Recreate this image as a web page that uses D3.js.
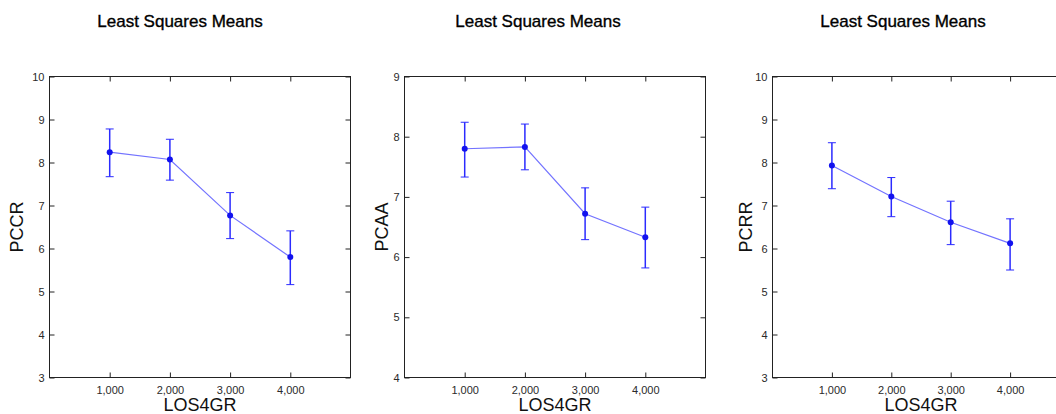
<!DOCTYPE html>
<html>
<head>
<meta charset="utf-8">
<script src="https://d3js.org/d3.v7.min.js"></script>
<style>
  body { margin: 0; background: #fff; }
  svg { display: block; font-family: "Liberation Sans", Arial, sans-serif; }
  .tick text { fill: #2a2a2a; font-size: 11px; }
  .tick line { stroke: #222; }
</style>
</head>
<body>
<div id="graphe"></div>
<script>
// niveaux de LOS4GR
const niveaux = [1000, 2000, 3000, 4000];

// PCCR
const moyPCCR = [8.24, 8.07, 6.77, 5.80];
const hautPCCR = [8.78, 8.54, 7.30, 6.41];
const basPCCR = [7.67, 7.59, 6.23, 5.16];

// PCAA
const moyPCAA = [7.80, 7.83, 6.72, 6.33];
const hautPCAA = [8.24, 8.21, 7.15, 6.83];
const basPCAA = [7.33, 7.45, 6.29, 5.82];

// PCRR
const moyPCRR = [7.93, 7.21, 6.61, 6.12];
const hautPCRR = [8.46, 7.65, 7.10, 6.69];
const basPCRR = [7.39, 6.74, 6.09, 5.50];

const ticksY10 = [3, 4, 5, 6, 7, 8, 9, 10];
const ticksY9 = [4, 5, 6, 7, 8, 9];

const panneaux = [
    { nom: "PCCR", moy: moyPCCR, haut: hautPCCR, bas: basPCCR, yMin: 3, yMax: 10, ticksY: ticksY10,
      gauche: 49.5, largeur: 301, titreX: 180, labelX: 23 },
    { nom: "PCAA", moy: moyPCAA, haut: hautPCAA, bas: basPCAA, yMin: 4, yMax: 9, ticksY: ticksY9,
      gauche: 404.5, largeur: 301, titreX: 538, labelX: 388 },
    { nom: "PCRR", moy: moyPCRR, haut: hautPCRR, bas: basPCRR, yMin: 3, yMax: 10, ticksY: ticksY10,
      gauche: 772.5, largeur: 297, titreX: 903, labelX: 752 }
];

const haut = 76.5, bas = 377.5;
const bleuLigne = "#7373ff", bleuBarre = "#2b2bff", bleuPoint = "#1212ee";

const svg = d3.select("#graphe").append("svg")
    .attr("width", 1056)
    .attr("height", 414);

panneaux.forEach(p => {
    const x = d3.scaleLinear().domain([0, 5000]).range([p.gauche, p.gauche + p.largeur]);
    const y = d3.scaleLinear().domain([p.yMin, p.yMax]).range([bas, haut]);
    const g = svg.append("g");

    // titre
    g.append("text")
        .attr("x", p.titreX).attr("y", 27)
        .attr("text-anchor", "middle")
        .style("font-size", "17px")
        .attr("fill", "#000").attr("stroke", "#000").attr("stroke-width", 0.35)
        .text("Least Squares Means");

    // cadre
    g.append("rect")
        .attr("x", p.gauche).attr("y", haut)
        .attr("width", p.largeur).attr("height", bas - haut)
        .attr("fill", "none").attr("stroke", "#222");

    // axes, graduations vers l'interieur
    g.append("g").attr("transform", `translate(${p.gauche},0)`)
        .call(d3.axisLeft(y).tickValues(p.ticksY).tickSize(-5).tickSizeOuter(0).tickPadding(5).tickFormat(d3.format("d")))
        .call(a => a.select(".domain").remove());
    g.append("g").attr("transform", `translate(${p.gauche + p.largeur},0)`)
        .call(d3.axisRight(y).tickValues(p.ticksY).tickSize(-5).tickSizeOuter(0).tickFormat(""))
        .call(a => a.select(".domain").remove());
    g.append("g").attr("transform", `translate(0,${bas})`)
        .call(d3.axisBottom(x).tickValues(niveaux).tickSize(-5).tickSizeOuter(0).tickPadding(9).tickFormat(d3.format(",")))
        .call(a => a.select(".domain").remove());
    g.append("g").attr("transform", `translate(0,${haut})`)
        .call(d3.axisTop(x).tickValues(niveaux).tickSize(-5).tickSizeOuter(0).tickFormat(""))
        .call(a => a.select(".domain").remove());
    g.selectAll(".tick text").attr("font-family", null).attr("font-size", null);

    // libelles
    g.append("text")
        .attr("transform", `translate(${p.labelX},${(haut + bas) / 2}) rotate(-90)`)
        .attr("text-anchor", "middle")
        .style("font-size", "18px").attr("fill", "#111")
        .text(p.nom);
    g.append("text")
        .attr("x", p.gauche + p.largeur / 2).attr("y", 411)
        .attr("text-anchor", "middle")
        .style("font-size", "18px").attr("fill", "#111")
        .text("LOS4GR");

    const donnees = niveaux.map((n, i) => ({ n: n, m: p.moy[i], h: p.haut[i], b: p.bas[i] }));

    // ligne des moyennes
    g.append("path")
        .datum(donnees)
        .attr("fill", "none").attr("stroke", bleuLigne).attr("stroke-width", 1.2)
        .attr("d", d3.line().x(d => x(d.n)).y(d => y(d.m)));

    // barres d'erreur
    const barres = g.selectAll(".barre").data(donnees).enter().append("g").attr("class", "barre")
        .attr("stroke", bleuBarre);
    barres.append("line")
        .attr("x1", d => x(d.n)).attr("x2", d => x(d.n))
        .attr("y1", d => y(d.h)).attr("y2", d => y(d.b))
        .attr("stroke-width", 1.5);
    barres.append("line")
        .attr("x1", d => x(d.n) - 4).attr("x2", d => x(d.n) + 4)
        .attr("y1", d => y(d.h)).attr("y2", d => y(d.h));
    barres.append("line")
        .attr("x1", d => x(d.n) - 4).attr("x2", d => x(d.n) + 4)
        .attr("y1", d => y(d.b)).attr("y2", d => y(d.b));

    // points
    g.selectAll(".point").data(donnees).enter().append("circle").attr("class", "point")
        .attr("cx", d => x(d.n)).attr("cy", d => y(d.m)).attr("r", 3)
        .attr("fill", bleuPoint);
});
</script>
</body>
</html>
